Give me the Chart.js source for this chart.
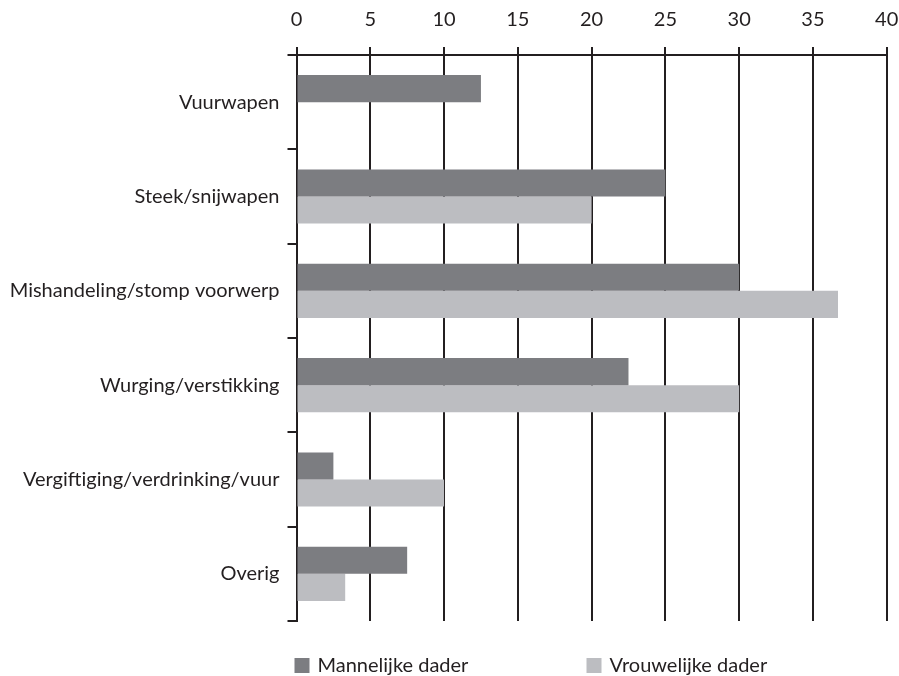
<!DOCTYPE html>
<html>
<head>
<meta charset="utf-8">
<script src="https://cdn.jsdelivr.net/npm/chart.js@4/dist/chart.umd.min.js"></script>
<style>
  html, body { margin: 0; padding: 0; background: #ffffff; }
  #wrap { width: 899px; height: 676px; }
</style>
</head>
<body>
<div id="wrap"><canvas id="c" width="899" height="676"></canvas></div>
<script>
const categories = [
  "Vuurwapen",
  "Steek/snijwapen",
  "Mishandeling/stomp voorwerp",
  "Wurging/verstikking",
  "Vergiftiging/verdrinking/vuur",
  "Overig"
];
const seriesNames = ["Mannelijke dader", "Vrouwelijke dader"];
const maleValues = [12.5, 25, 30, 22.5, 2.5, 7.5];
const femaleValues = [0, 20, 36.7, 30, 10, 3.3];
const xTickMin = 0, xTickMax = 40, xTickStep = 5;

const INK = '#231f20';
const FONT = 'Lato, "Open Sans", sans-serif';
const colors = ['#7c7d81', '#bcbdc1'];

const legendPlugin = {
  id: 'customLegend',
  afterDraw(chart) {
    const ctx = chart.ctx;
    const left = chart.chartArea.left;
    const offsets = [-2, 290];
    const y = 665.5;
    ctx.save();
    ctx.font = '20px ' + FONT;
    ctx.textBaseline = 'middle';
    ctx.textAlign = 'left';
    chart.data.datasets.forEach((ds, i) => {
      const x = left + offsets[i];
      ctx.fillStyle = ds.backgroundColor;
      ctx.fillRect(x, y - 7.5, 15, 15);
      ctx.fillStyle = INK;
      ctx.fillText(ds.label, x + 23, y);
    });
    ctx.restore();
  }
};

new Chart(document.getElementById('c'), {
  type: 'bar',
  data: {
    labels: categories,
    datasets: [
      { label: seriesNames[0], data: maleValues, backgroundColor: colors[0] },
      { label: seriesNames[1], data: femaleValues, backgroundColor: colors[1] }
    ]
  },
  options: {
    indexAxis: 'y',
    responsive: false,
    animation: false,
    devicePixelRatio: 1,
    datasets: { bar: { categoryPercentage: 0.575, barPercentage: 1.0, borderWidth: 0 } },
    layout: { padding: { left: 0, right: 12.3, top: 0, bottom: 55 } },
    plugins: { legend: { display: false }, tooltip: { enabled: false } },
    scales: {
      x: {
        position: 'top',
        min: xTickMin,
        max: xTickMax,
        ticks: { stepSize: xTickStep, color: INK, font: { family: FONT, size: 20 }, padding: 15 },
        grid: { color: INK, lineWidth: 2, tickLength: 8, drawTicks: true },
        border: { display: true, color: INK, width: 2 },
        afterFit(scale) { scale.height = 55; scale.paddingLeft = 0; scale.paddingRight = 0; }
      },
      y: {
        ticks: { color: INK, font: { family: FONT, size: 20 }, padding: 8 },
        grid: { offset: true, drawOnChartArea: false, drawTicks: true, tickLength: 9, color: INK, lineWidth: 2 },
        border: { display: true, color: INK, width: 2 },
        afterFit(scale) { scale.width = 296.5; scale.paddingTop = 0; scale.paddingBottom = 0; }
      }
    }
  },
  plugins: [legendPlugin]
});
</script>
</body>
</html>
